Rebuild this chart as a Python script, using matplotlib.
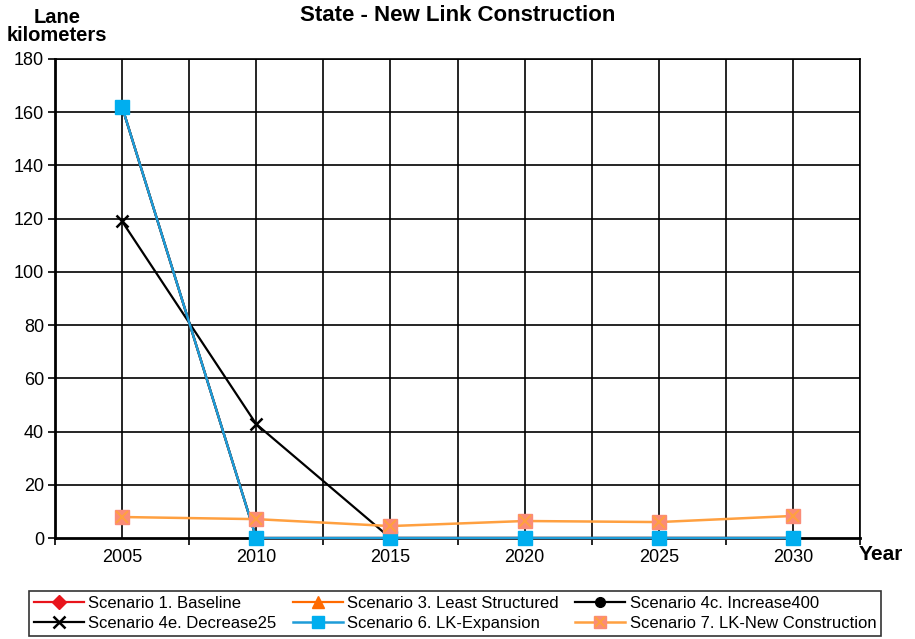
import matplotlib
matplotlib.use("Agg")
import matplotlib.pyplot as plt
from matplotlib.lines import Line2D
from matplotlib.legend_handler import HandlerTuple
import numpy as np

plt.rcParams['font.family'] = ['Liberation Sans', 'DejaVu Sans']

years = ["2005", "2010", "2015", "2020", "2025", "2030"]
baseline = [162, 0, 0, 0, 0, 0]
least_structured = [162, 0, 0, 0, 0, 0]
increase400 = [162, 0, 0, 0, 0, 0]
decrease25 = [119, 42.8, 0, 0, 0, 0]
lk_expansion = [162, 0, 0, 0, 0, 0]
lk_new_construction = [7.9, 7.1, 4.5, 6.4, 6.0, 8.3]

fig = plt.figure(figsize=(9.15, 6.39), dpi=100)
ax = fig.add_axes([0.0601, 0.158, 0.8798, 0.7497])

x = np.arange(len(years))

kw = dict(clip_on=False)
ax.plot(x, baseline, color="#E8141B", lw=1.6, marker="D", ms=7, zorder=3, **kw)
ax.plot(x, least_structured, color="#FF6A00", lw=1.6, marker="^", ms=8, zorder=3, **kw)
ax.plot(x, increase400, color="black", lw=1.6, marker="o", ms=7, zorder=3, **kw)
ax.plot(x, decrease25, color="black", lw=1.6, marker="x", ms=8, mew=1.8, zorder=4, **kw)
ax.plot(x, lk_expansion, color="#1E9CD8", lw=1.8, marker="s", ms=10,
        mfc="#00AEEF", mec="#00AEEF", zorder=5, **kw)
ax.plot(x, lk_new_construction, color="#FFA040", lw=1.8, marker="s", ms=10,
        mfc="#FA8C78", mec="#FA8C78", zorder=6, **kw)
ax.plot(x, lk_new_construction, ls="none", marker="x", ms=8, mew=1.5,
        color="#FFA040", zorder=7, **kw)

ax.set_xlim(-0.5, 5.5)
ax.set_ylim(0, 180)
ax.set_yticks(np.arange(0, 181, 20))
ax.set_xticks(x)
ax.set_xticklabels(years)
ax.set_xticks(np.arange(-0.5, 5.6, 1), minor=True)

# grid at category centres and boundaries
for xv in np.arange(-0.5, 5.6, 0.5):
    ax.axvline(xv, color="black", lw=1.2, zorder=1)
for yv in np.arange(20, 181, 20):
    ax.axhline(yv, color="black", lw=1.2, zorder=1)

ax.tick_params(axis="x", which="major", length=0, labelsize=13, pad=8)
ax.tick_params(axis="x", which="minor", length=5, width=1.2, direction="out")
ax.tick_params(axis="y", length=5, width=1.2, direction="out", labelsize=13, pad=3)
for s in ax.spines.values():
    s.set_color("black")
    s.set_linewidth(1.2)
ax.spines["left"].set_linewidth(2)
ax.spines["bottom"].set_linewidth(2)

fig.text(0.5, 0.975, "State - New Link Construction", ha="center", va="center",
         fontsize=16, fontweight="bold")
fig.text(0.0623, 0.958, "Lane\nkilometers", ha="center", va="center",
         fontsize=14.5, fontweight="bold", linespacing=0.95)
fig.text(0.9625, 0.133, "Year", ha="center", va="center",
         fontsize=15, fontweight="bold")

h1 = Line2D([], [], color="#E8141B", lw=1.6, marker="D", ms=7)
h3 = Line2D([], [], color="#FF6A00", lw=1.6, marker="^", ms=8)
h4c = Line2D([], [], color="black", lw=1.6, marker="o", ms=7)
h4e = Line2D([], [], color="black", lw=1.6, marker="x", ms=8, mew=1.8)
h6 = Line2D([], [], color="#1E9CD8", lw=1.8, marker="s", ms=9, mfc="#00AEEF", mec="#00AEEF")
h7a = Line2D([], [], color="#FFA040", lw=1.8, marker="s", ms=9, mfc="#FA8C78", mec="#FA8C78")
h7b = Line2D([], [], ls="none", marker="x", ms=7, mew=1.5, color="#FFA040")

handles = [h1, h4e, h3, h6, h4c, (h7a, h7b)]
labels = ["Scenario 1. Baseline", "Scenario 4e. Decrease25",
          "Scenario 3. Least Structured", "Scenario 6. LK-Expansion",
          "Scenario 4c. Increase400", "Scenario 7. LK-New Construction"]
leg = fig.legend(handles, labels, ncol=3, loc="center",
                 bbox_to_anchor=(0.4973, 0.0405), frameon=True, fancybox=False,
                 edgecolor="black", fontsize=12, handlelength=3.0,
                 columnspacing=1.0, handletextpad=0.25, labelspacing=0.3,
                 borderpad=0.3, borderaxespad=0,
                 handler_map={tuple: HandlerTuple(ndivide=1, pad=0)})
leg.get_frame().set_linewidth(1.2)

fig.savefig("out.png", dpi=100)
